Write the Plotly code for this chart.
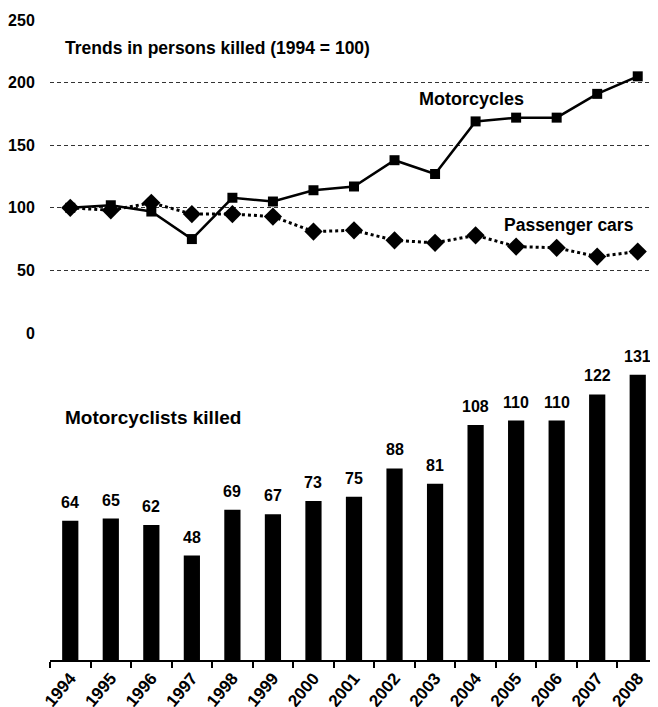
import plotly.graph_objects as go

years = ["1994", "1995", "1996", "1997", "1998", "1999", "2000", "2001",
         "2002", "2003", "2004", "2005", "2006", "2007", "2008"]
motorcycles_index = [100, 102, 97, 75, 108, 105, 114, 117, 138, 127, 169, 172, 172, 191, 205]
passenger_cars_index = [100, 98, 104, 95, 95, 93, 81, 82, 74, 72, 78, 69, 68, 61, 65]
motorcyclists_killed = [64, 65, 62, 48, 69, 67, 73, 75, 88, 81, 108, 110, 110, 122, 131]
y_ticks_top = [0, 50, 100, 150, 200, 250]

FONT = "Liberation Sans, Arial, sans-serif"

fig = go.Figure()

fig.add_trace(go.Bar(
    x=years, y=motorcyclists_killed, xaxis="x", yaxis="y",
    marker=dict(color="black", line=dict(width=0)),
    showlegend=False,
))

fig.add_trace(go.Scatter(
    x=years, y=passenger_cars_index, xaxis="x2", yaxis="y2", mode="lines+markers",
    line=dict(color="black", width=3, dash="dot"),
    marker=dict(symbol="diamond", size=14, color="black"),
    showlegend=False, cliponaxis=False,
))
fig.add_trace(go.Scatter(
    x=years, y=motorcycles_index, xaxis="x2", yaxis="y2", mode="lines+markers",
    line=dict(color="black", width=2.5),
    marker=dict(symbol="square", size=10, color="black"),
    showlegend=False, cliponaxis=False,
))

# bar value labels (category index positions on the category axis)
bar_labels = [
    dict(text=str(v), x=i, y=v, xref="x", yref="y", xanchor="center", yanchor="bottom",
         yshift=8, showarrow=False,
         font=dict(family=FONT, size=16, color="black", weight="bold"))
    for i, v in enumerate(motorcyclists_killed)
]

n = len(years)

fig.update_layout(
    width=650, height=699,
    margin=dict(l=42, r=0, t=12, b=47),
    paper_bgcolor="white", plot_bgcolor="white",
    bargap=0.6,
    font=dict(family=FONT, size=15, color="black"),
    xaxis=dict(
        type="category", anchor="y", domain=[0, 1], automargin=False,
        categoryorder="array", categoryarray=years, range=[-0.5, n - 0.5],
        showline=True, linecolor="black", linewidth=1.5,
        ticks="outside", ticklen=6, tickcolor="black", tickwidth=1.5,
        tickson="boundaries", tickangle=-50,
        tickfont=dict(family=FONT, size=17, weight="bold"),
        showgrid=False,
    ),
    yaxis=dict(
        domain=[0, 0.5], range=[0, 147], anchor="x", automargin=False,
        showgrid=False, showticklabels=False, showline=False, zeroline=False,
    ),
    xaxis2=dict(
        type="category", anchor="y2", matches="x", automargin=False,
        showticklabels=False, showgrid=False, showline=False, ticks="",
    ),
    yaxis2=dict(
        domain=[0.511, 1], range=[0, 250], anchor="x2", automargin=False,
        tickvals=y_ticks_top,
        showgrid=True, gridcolor="#333333", gridwidth=1, griddash="4px,3px",
        zeroline=False, showline=False,
        ticks="outside", ticklen=11, tickcolor="rgba(0,0,0,0)",
        tickfont=dict(family=FONT, size=16, weight="bold"),
    ),
    annotations=[
        dict(text="Trends in persons killed (1994 = 100)", xref="paper", yref="y2",
             x=0.021, y=228, xanchor="left", yanchor="middle", showarrow=False,
             font=dict(family=FONT, size=17.5, weight="bold")),
        dict(text="Motorcycles", xref="paper", yref="y2",
             x=0.604, y=187, xanchor="left", yanchor="middle", showarrow=False,
             font=dict(family=FONT, size=18, weight="bold")),
        dict(text="Passenger cars", xref="paper", yref="y2",
             x=0.743, y=86, xanchor="left", yanchor="middle", showarrow=False,
             font=dict(family=FONT, size=17.5, weight="bold")),
        dict(text="Motorcyclists killed", xref="paper", yref="y",
             x=0.021, y=111.5, xanchor="left", yanchor="middle", showarrow=False,
             font=dict(family=FONT, size=19, weight="bold")),
    ] + bar_labels,
)

fig.write_html("out.html")
